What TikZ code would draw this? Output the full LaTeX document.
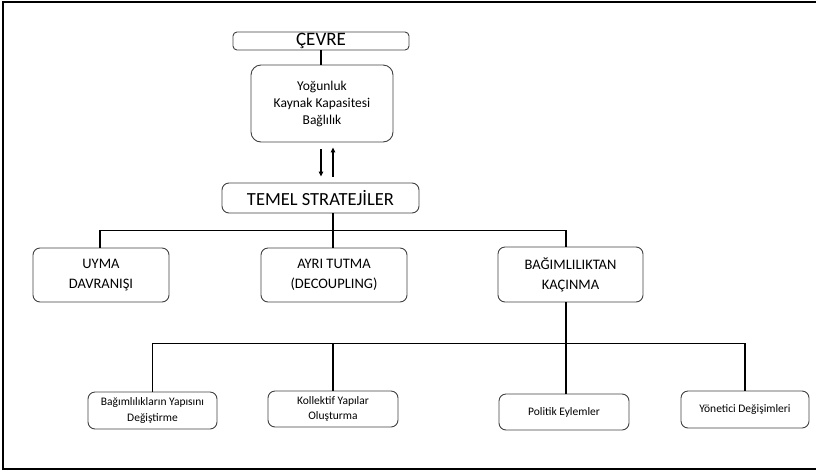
\documentclass[tikz,border=0pt]{standalone}
\usepackage{fontspec}
\setmainfont{Carlito}
\usetikzlibrary{arrows.meta,calc}
\begin{document}
\begin{tikzpicture}[x=1pt,y=-1pt,
  box/.style={draw=black!75, line width=0.9pt, rounded corners=7pt, align=center, inner sep=0pt, text=black},
  conn/.style={line width=1.4pt, black},
  arr/.style={line width=1.3pt, black, -{Triangle[length=5pt,width=4.5pt]}},
  bigtxt/.style={font=\fontsize{19}{22}\selectfont},
  midtxt/.style={font=\fontsize{18.5}{20}\selectfont},
  cattxt/.style={font=\fontsize{14.5}{20}\selectfont},
  envtxt/.style={font=\fontsize{13.5}{17}\selectfont},
  smalltxt/.style={font=\fontsize{11.5}{15.5}\selectfont}]
\useasboundingbox (0,0) rectangle (816,472);
\draw[line width=2pt] (816,2) -- (3,2) -- (3,469) -- (816,469);

\node[box, bigtxt, rounded corners=4pt, minimum width=176pt, minimum height=18pt] (cevre) at (321,41) {ÇEVRE};
\node[box, envtxt, rounded corners=10pt, minimum width=142pt, minimum height=77pt] (yog) at (322,103.5) {Yoğunluk\\Kaynak Kapasitesi\\Bağlılık};
\node[box, midtxt, minimum width=197pt, minimum height=30pt] (temel) at (320.5,198) {TEMEL STRATEJİLER};

\node[box, cattxt, minimum width=136pt, minimum height=54pt] (uyma) at (101,275) {UYMA\\DAVRANIŞI};
\node[box, cattxt, minimum width=146pt, minimum height=54pt] (ayri) at (334,275) {AYRI TUTMA\\(DECOUPLING)};
\node[box, cattxt, minimum width=145pt, minimum height=55pt] (bag) at (570.5,274.5) {BAĞIMLILIKTAN\\KAÇINMA};

\node[box, smalltxt, minimum width=129pt, minimum height=37pt] (b1) at (152.5,410.5) {Bağımlılıkların Yapısını\\Değiştirme};
\node[box, smalltxt, minimum width=130pt, minimum height=36pt] (b2) at (333,409) {Kollektif Yapılar\\Oluşturma};
\node[box, smalltxt, minimum width=130pt, minimum height=36pt] (b3) at (564,412) {Politik Eylemler};
\node[box, smalltxt, minimum width=128pt, minimum height=37pt] (b4) at (745,409.5) {Yönetici Değişimleri};

% environment links
\draw[conn] (cevre.south) -- (cevre.south |- yog.north);
\draw[arr] ($(yog.south)+(-1,7)$) -- ($(temel.north)+(0.5,-6)$);
\draw[arr] ($(temel.north)+(12.5,-6)$) -- ($(yog.south)+(11,5)$);

% strategies bus
\coordinate (bus1) at ($(temel.south)+(12.5,17)$);
\draw[conn] (temel.south -| bus1) -- (bus1);
\draw[conn] ([xshift=-1pt]uyma.north) |- ([xshift=-4.5pt]bag.north |- bus1) -- ([xshift=-4.5pt]bag.north);
\draw[conn] (ayri.north -| bus1) -- (bus1);

% avoidance bus
\coordinate (bus2) at ($(bag.south)+(-4.5,41)$);
\draw[conn] (bag.south -| bus2) -- (bus2);
\draw[conn] (b1.north) |- (b4.north |- bus2) -- (b4.north);
\draw[conn] (b2.north |- bus2) -- (b2.north);
\draw[conn] (bus2) -- (b3.north -| bus2);
\end{tikzpicture}
\end{document}
